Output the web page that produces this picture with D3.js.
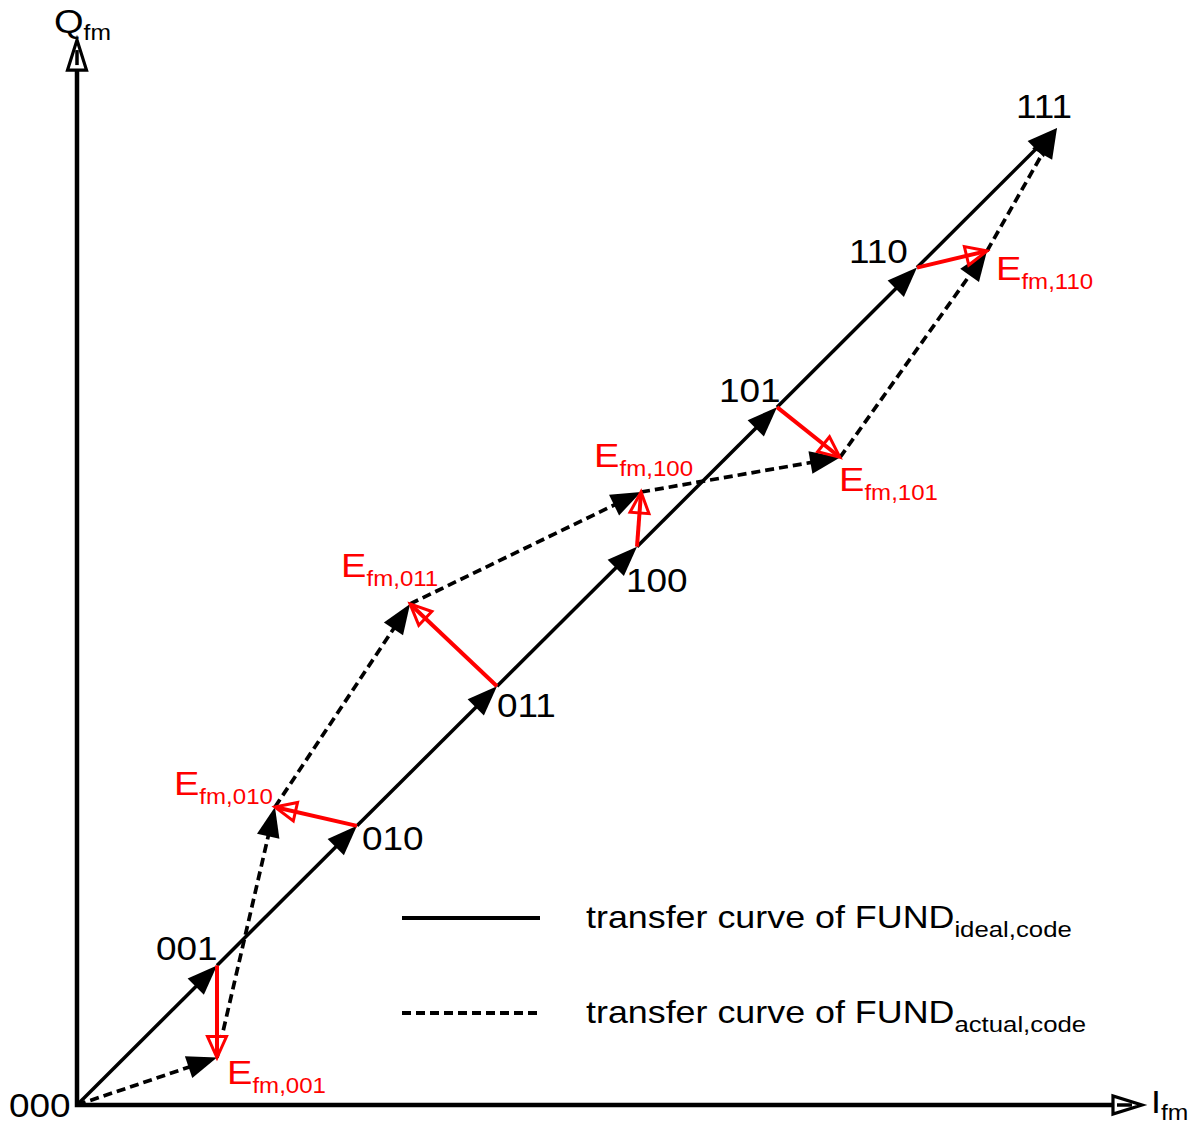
<!DOCTYPE html>
<html>
<head>
<meta charset="utf-8">
<script src="https://cdn.jsdelivr.net/npm/d3@7"></script>
<style>
  html, body { margin: 0; padding: 0; background: #fff; }
  svg text { font-family: "Liberation Sans", Arial, Helvetica, sans-serif; }
</style>
</head>
<body>
<svg id="chart" width="1202" height="1126"></svg>
<script>
// Output codes of the 3-bit converter
const codes = ["000", "001", "010", "011", "100", "101", "110", "111"];
// Ideal transfer curve: code k sits at (k, k)
const idealI = [0, 1, 2, 3, 4, 5, 6, 7];
const idealQ = [0, 1, 2, 3, 4, 5, 6, 7];
// Measured (actual) transfer curve
const actualI = [0, 1.00, 1.414, 2.379, 4.029, 5.45, 6.50, 7];
const actualQ = [0, 0.34, 2.135, 3.590, 4.392, 4.64, 6.119, 7];
// Codes that carry an error vector
const errorCodes = ["001", "010", "011", "100", "101", "110"];
// Legend entries
const legendMain = ["transfer curve of FUND", "transfer curve of FUND"];
const legendSub = ["ideal,code", "actual,code"];
const axisNames = [{ main: "Q", sub: "fm" }, { main: "I", sub: "fm" }];

// ---- layout ----
const svg = d3.select("#chart");
const x = d3.scaleLinear().domain([0, 7]).range([77, 1057]);
const y = d3.scaleLinear().domain([0, 7]).range([1105, 128]);
const xAxisEnd = 7.607;   // I-axis arrow tip
const yAxisEnd = 7.63;    // Q-axis arrow tip
const STRETCH = 1.12;     // horizontal text scale

// label offsets (pixels) from the ideal point of each code
const codeLabelOffset = {
  "000": [-68, 12], "001": [-61, -5], "010": [5, 24], "011": [0, 31],
  "100": [-11, 45], "101": [-58, -5], "110": [-68, -5], "111": [-41, -10]
};
// error-label offsets (pixels) from the actual point of each code
const errLabelOffset = {
  "001": [10, 26], "010": [-101, -12], "011": [-69, -27],
  "100": [-47, -25], "101": [-1, 34], "110": [9, 29]
};

function headPath(x1, y1, x2, y2, L, w) {
  const dx = x2 - x1, dy = y2 - y1, len = Math.hypot(dx, dy);
  const ux = dx / len, uy = dy / len;
  const bx = x2 - ux * L, by = y2 - uy * L;
  const nx = -uy, ny = ux;
  return `M${x2},${y2}L${bx + nx * w},${by + ny * w}L${bx - nx * w},${by - ny * w}Z`;
}
function trimEnd(x1, y1, x2, y2, d) {
  const dx = x2 - x1, dy = y2 - y1, len = Math.hypot(dx, dy);
  return [x2 - dx / len * d, y2 - dy / len * d];
}

// ---- axes ----
const ax0 = x(0), ay0 = y(0), axEnd = x(xAxisEnd), ayEnd = y(yAxisEnd);
const axes = svg.append("g");
axes.append("path")
  .attr("d", `M${ax0},${ayEnd + 20}L${ax0},${ay0}L${axEnd - 20},${ay0}`)
  .attr("fill", "none").attr("stroke", "#000").attr("stroke-width", 4.5)
  .attr("stroke-linejoin", "miter");
axes.append("path").attr("d", headPath(ax0, ay0, ax0, ayEnd, 30, 9.5))
  .attr("fill", "#fff").attr("stroke", "#000").attr("stroke-width", 3.2).attr("stroke-linejoin", "miter");
axes.append("path").attr("d", headPath(ax0, ay0, axEnd, ay0, 29, 9))
  .attr("fill", "#fff").attr("stroke", "#000").attr("stroke-width", 3.2).attr("stroke-linejoin", "miter");
axes.append("line").attr("x1", ax0).attr("y1", ayEnd + 25).attr("x2", ax0).attr("y2", ayEnd + 10)
  .attr("stroke", "#000").attr("stroke-width", 3.5);
axes.append("line").attr("x1", axEnd - 25).attr("y1", ay0).attr("x2", axEnd - 10).attr("y2", ay0)
  .attr("stroke", "#000").attr("stroke-width", 3.5);

// ---- text helper (main + subscript) ----
function label(g, px, py, main, sub, size, subSize, subDy, color) {
  const t = g.append("text")
    .attr("transform", `translate(${px},${py}) scale(${STRETCH},1)`)
    .attr("fill", color);
  t.append("tspan").attr("font-size", size).text(main);
  if (sub) t.append("tspan").attr("font-size", subSize).attr("dy", subDy).text(sub);
  return t;
}

// axis names
label(svg, ax0 - 23, 33, axisNames[0].main, axisNames[0].sub, 34, 22, 7, "#000");
label(svg, axEnd + 9, 1113, axisNames[1].main, axisNames[1].sub, 32, 22, 7, "#000");

// ---- curves ----
const ideal = idealI.map((v, i) => [x(v), y(idealQ[i])]);
const actual = actualI.map((v, i) => [x(v), y(actualQ[i])]);

const curves = svg.append("g");
const heads = svg.append("g");
d3.range(1, codes.length).forEach(i => {
  const [x1, y1] = ideal[i - 1], [x2, y2] = ideal[i];
  const [ex, ey] = trimEnd(x1, y1, x2, y2, 18);
  curves.append("line").attr("x1", x1).attr("y1", y1).attr("x2", ex).attr("y2", ey)
    .attr("stroke", "#000").attr("stroke-width", 3.5);
  heads.append("path").attr("d", headPath(x1, y1, x2, y2, 30, 11.5)).attr("fill", "#000");
});
d3.range(1, codes.length).forEach(i => {
  const [x1, y1] = actual[i - 1], [x2, y2] = actual[i];
  const [ex, ey] = trimEnd(x1, y1, x2, y2, 18);
  curves.append("line").attr("x1", x1).attr("y1", y1).attr("x2", ex).attr("y2", ey)
    .attr("stroke", "#000").attr("stroke-width", 3.7).attr("stroke-dasharray", "9,5");
  heads.append("path").attr("d", headPath(x1, y1, x2, y2, 30, 11.5)).attr("fill", "#000");
});

// ---- error vectors ----
const errs = svg.append("g");
errorCodes.forEach(c => {
  const i = codes.indexOf(c);
  const [x1, y1] = ideal[i], [x2, y2] = actual[i];
  errs.append("path").attr("d", headPath(x1, y1, x2, y2, 21, 9.5))
    .attr("fill", "#fff").attr("stroke", "#ff0000").attr("stroke-width", 3)
    .attr("stroke-linejoin", "miter");
  const [ex, ey] = trimEnd(x1, y1, x2, y2, 3);
  errs.append("line").attr("x1", x1).attr("y1", y1).attr("x2", ex).attr("y2", ey)
    .attr("stroke", "#ff0000").attr("stroke-width", 4);
});

// ---- labels ----
const labels = svg.append("g");
codes.forEach((c, i) => {
  const [ox, oy] = codeLabelOffset[c];
  label(labels, ideal[i][0] + ox, ideal[i][1] + oy, c, null, 33, 0, 0, "#000");
});
errorCodes.forEach(c => {
  const i = codes.indexOf(c);
  const [ox, oy] = errLabelOffset[c];
  label(labels, actual[i][0] + ox, actual[i][1] + oy, "E", "fm," + c, 34, 21.5, 9, "#ff0000");
});

// ---- legend ----
const legend = svg.append("g");
const legendRows = [918, 1013];
legend.append("line").attr("x1", 402).attr("y1", legendRows[0]).attr("x2", 540).attr("y2", legendRows[0])
  .attr("stroke", "#000").attr("stroke-width", 4);
legend.append("line").attr("x1", 402).attr("y1", legendRows[1]).attr("x2", 540).attr("y2", legendRows[1])
  .attr("stroke", "#000").attr("stroke-width", 4).attr("stroke-dasharray", "9,5");
legendMain.forEach((m, k) => {
  label(legend, 586, legendRows[k] + 10, m, legendSub[k], 32, 23, 9, "#000");
});
</script>
</body>
</html>
